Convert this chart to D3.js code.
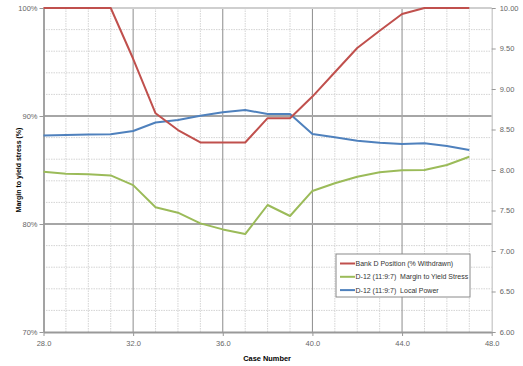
<!DOCTYPE html>
<html>
<head>
<meta charset="utf-8">
<script src="https://cdn.jsdelivr.net/npm/d3@7/dist/d3.min.js"></script>
<style>
  html, body { margin: 0; padding: 0; background: #fff; }
  svg { display: block; font-family: "Liberation Sans", Arial, sans-serif; }
</style>
</head>
<body>
<svg id="chart" width="523" height="366"></svg>
<script>
// Case numbers along the horizontal axis
const cases = [28, 29, 30, 31, 32, 33, 34, 35, 36, 37, 38, 39, 40, 41, 42, 43, 44, 45, 46, 47];

// Bank D position, % withdrawn (left axis)
const bankD = [100, 100, 100, 100, 95.3, 90.25, 88.7, 87.55, 87.55, 87.55,
               89.8, 89.8, 91.8, 94.05, 96.3, 97.9, 99.45, 100, 100, 100];

// D-12 (11:9:7) margin to yield stress, % (left axis)
const margin = [84.84, 84.66, 84.6, 84.5, 83.6, 81.55, 81.05, 80.06, 79.5, 79.07,
                81.76, 80.74, 83.06, 83.77, 84.38, 84.79, 84.97, 85.0, 85.46, 86.23];

// D-12 (11:9:7) local power (right axis)
const localPower = [8.426, 8.432, 8.438, 8.441, 8.481, 8.586, 8.617, 8.670, 8.712, 8.741,
                    8.691, 8.691, 8.444, 8.404, 8.362, 8.337, 8.321, 8.330, 8.296, 8.247];

// Tick values
const xTicks = [28, 32, 36, 40, 44, 48];
const yLeftTicks = [70, 80, 90, 100];
const yRightTicks = [6, 6.5, 7, 7.5, 8, 8.5, 9, 9.5, 10];

const seriesNames = ["Bank D Position (% Withdrawn)",
                     "D-12 (11:9:7)  Margin to Yield Stress",
                     "D-12 (11:9:7)  Local Power"];
const seriesColors = ["#C0504D", "#9BBB59", "#4F81BD"];

const svg = d3.select("#chart");
const L = 43.5, R = 491.7, T = 8, B = 332;

const x = d3.scaleLinear().domain([28, 48]).range([L, R]);
const yL = d3.scaleLinear().domain([70, 100]).range([B, T]);
const yR = d3.scaleLinear().domain([6, 10]).range([B, T]);

// Minor gridlines
const g = svg.append("g");
g.selectAll(".vminor").data(d3.range(29, 48).filter(v => v % 4 !== 0))
  .enter().append("line")
  .attr("x1", d => x(d)).attr("x2", d => x(d)).attr("y1", T).attr("y2", B)
  .attr("stroke", "#d4d4d4").attr("stroke-width", 1).attr("stroke-dasharray", "1.5,1");
g.selectAll(".hminor").data(d3.range(72, 100, 2).filter(v => v % 10 !== 0))
  .enter().append("line")
  .attr("x1", L).attr("x2", R).attr("y1", d => yL(d)).attr("y2", d => yL(d))
  .attr("stroke", "#d4d4d4").attr("stroke-width", 1).attr("stroke-dasharray", "1.5,1");

// Major gridlines
g.selectAll(".vmajor").data([32, 36, 40, 44])
  .enter().append("line")
  .attr("x1", d => x(d)).attr("x2", d => x(d)).attr("y1", T).attr("y2", B)
  .attr("stroke", "#8c8c8c").attr("stroke-width", 1);
g.selectAll(".hmajor").data([80, 90])
  .enter().append("line")
  .attr("x1", L).attr("x2", R).attr("y1", d => yL(d)).attr("y2", d => yL(d))
  .attr("stroke", "#a6a6a6").attr("stroke-width", 1.8);
// Top border
g.append("line").attr("x1", L).attr("x2", R).attr("y1", T).attr("y2", T)
  .attr("stroke", "#cfcfcf").attr("stroke-width", 2);

// Axes
function styleAxis(sel, lineColor, lineWidth) {
  sel.select(".domain").attr("stroke", lineColor).attr("stroke-width", lineWidth);
  sel.selectAll(".tick line").attr("stroke", lineColor).attr("stroke-width", 1);
  sel.selectAll(".tick text").attr("fill", "#666").style("font-size", "7.5px");
}

const axB = svg.append("g").attr("transform", `translate(0,${B})`)
  .call(d3.axisBottom(x).tickValues(xTicks).tickFormat(d3.format(".1f"))
        .tickSize(4).tickSizeOuter(0).tickPadding(5));
styleAxis(axB, "#999", 1.8);

const axL = svg.append("g").attr("transform", `translate(${L},0)`)
  .call(d3.axisLeft(yL).tickValues(yLeftTicks).tickFormat(d => d + "%")
        .tickSize(4).tickSizeOuter(0).tickPadding(2));
styleAxis(axL, "#999", 1.8);

const axR = svg.append("g").attr("transform", `translate(${R},0)`)
  .call(d3.axisRight(yR).tickValues(yRightTicks).tickFormat(d3.format(".2f"))
        .tickSize(4).tickSizeOuter(0).tickPadding(4));
styleAxis(axR, "#c4c4c4", 1.2);
axR.selectAll(".tick line").attr("stroke", "#999");

// Series lines
const lineL = d3.line().x((d, i) => x(cases[i])).y(d => yL(d));
const lineR = d3.line().x((d, i) => x(cases[i])).y(d => yR(d));

svg.append("path").datum(margin).attr("d", lineL)
  .attr("fill", "none").attr("stroke", seriesColors[1]).attr("stroke-width", 2)
  .attr("stroke-linejoin", "round");
svg.append("path").datum(localPower).attr("d", lineR)
  .attr("fill", "none").attr("stroke", seriesColors[2]).attr("stroke-width", 2)
  .attr("stroke-linejoin", "round");
svg.append("path").datum(bankD).attr("d", lineL)
  .attr("fill", "none").attr("stroke", seriesColors[0]).attr("stroke-width", 2)
  .attr("stroke-linejoin", "round");

// Axis titles
svg.append("text").attr("x", (L + R) / 2 - 0.5).attr("y", 361)
  .attr("text-anchor", "middle").style("font-size", "7.4px").style("font-weight", "bold")
  .attr("fill", "#000").text("Case Number");
svg.append("text").attr("transform", `translate(20.5,${(T + B) / 2}) rotate(-90)`)
  .attr("text-anchor", "middle").style("font-size", "7px").style("font-weight", "bold")
  .attr("fill", "#000").text("Margin to yield stress (%)");

// Legend
const lg = svg.append("g").attr("transform", "translate(336,254)");
lg.append("rect").attr("x", 0).attr("y", 0).attr("width", 134).attr("height", 43)
  .attr("fill", "#fff").attr("stroke", "#8a8a8a").attr("stroke-width", 1);
seriesNames.forEach((name, i) => {
  const yy = 9.5 + i * 13.3;
  lg.append("line").attr("x1", 4).attr("x2", 19).attr("y1", yy).attr("y2", yy)
    .attr("stroke", seriesColors[i]).attr("stroke-width", 2);
  lg.append("text").attr("x", 19.5).attr("y", yy + 2.5)
    .attr("xml:space", "preserve").style("white-space", "pre")
    .style("font-size", "7px").attr("fill", "#333").text(name);
});
</script>
</body>
</html>
